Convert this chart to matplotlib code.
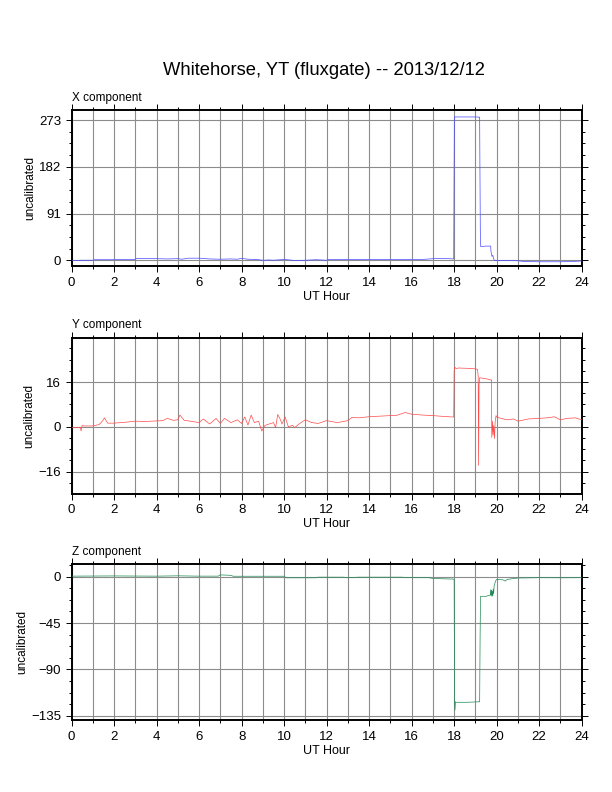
import matplotlib
matplotlib.use("Agg")
import matplotlib.pyplot as plt
from matplotlib.ticker import MultipleLocator
import numpy as np

plt.rcParams['font.family'] = ['Liberation Sans', 'DejaVu Sans']

title = "Whitehorse, YT (fluxgate) -- 2013/12/12"
x_ticks = [0, 2, 4, 6, 8, 10, 12, 14, 16, 18, 20, 22, 24]

# X component (hours, value)
x_hours = [0.0, 0.5, 1.0, 1.1, 2.0, 2.5, 3.0, 3.05, 3.5, 4.0, 4.5, 5.0, 5.2, 5.5, 6.0, 6.5,
           7.0, 7.5, 7.8, 8.0, 8.3, 8.7, 9.0, 9.3, 9.5, 10.0, 10.5, 11.0, 11.5, 12.0, 12.1,
           13.0, 14.0, 15.0, 16.0, 16.5, 17.0, 17.5, 17.98, 18.0, 18.01, 18.5, 19.0,
           19.2, 19.21, 19.23, 19.25, 19.5, 19.72, 19.73, 19.78, 19.82, 19.86, 19.9, 20.5,
           21.0, 21.3, 22.0, 23.0, 23.5, 24.0]
x_vals = [0.0, 0.5, 0.5, 1.5, 1.5, 2.0, 2.0, 4.0, 4.0, 3.5, 3.0, 3.5, 2.5, 4.5, 4.5, 3.0,
          2.5, 3.0, 2.5, 4.0, 2.5, 2.0, 0.5, 1.0, 0.5, 2.0, 0.0, 0.5, 1.5, 0.5, 2.0,
          2.0, 2.0, 2.0, 2.0, 2.0, 3.5, 4.0, 3.0, 200.0, 279.0, 279.0, 279.0,
          278.5, 200.0, 60.0, 27.0, 28.0, 28.0, 18.0, 8.0, 10.0, 3.0, 0.0, 0.0,
          -0.5, -2.0, -2.5, -2.5, -2.0, -1.0]

# Y component
y_hours = [0.0, 0.3, 0.42, 0.45, 0.5, 0.55, 1.0, 1.3, 1.45, 1.55, 1.7, 2.0, 2.5, 3.0, 3.5,
           4.0, 4.3, 4.5, 4.8, 5.0, 5.1, 5.3, 5.6, 6.0, 6.2, 6.5, 6.8, 7.0, 7.2, 7.5, 7.8,
           8.0, 8.15, 8.3, 8.45, 8.6, 8.8, 8.95, 9.1, 9.3, 9.5, 9.6, 9.7, 9.8, 9.9, 10.05,
           10.2, 10.4, 10.5, 10.7, 11.0, 11.3, 11.6, 12.0, 12.5, 13.0, 13.2, 13.5, 14.0,
           14.5, 15.0, 15.3, 15.7, 16.0, 16.5, 17.0, 17.5, 17.98, 18.0, 18.02, 18.1, 18.2,
           18.6, 19.0, 19.1, 19.13, 19.15, 19.17, 19.2, 19.4, 19.6, 19.73, 19.75, 19.77,
           19.8, 19.83, 19.86, 19.9, 19.93, 19.97, 20.0, 20.2, 20.5, 20.8, 21.0, 21.5,
           22.0, 22.5, 22.7, 23.0, 23.3, 23.7, 24.0]
y_vals = [-0.2, -0.3, -0.2, -1.5, 0.5, 0.3, 0.3, 0.8, 2.0, 3.2, 1.3, 1.3, 1.6, 2.0, 1.9,
          2.1, 2.2, 3.0, 2.3, 2.5, 4.2, 2.3, 2.0, 1.5, 2.8, 1.0, 3.0, 1.2, 3.0, 1.5, 2.5,
          1.2, 3.5, 0.6, 4.2, 1.5, 2.0, -1.5, 0.5, 1.0, 1.5, -0.3, 4.4, 3.0, 1.0, 3.5,
          0.0, 0.5, -0.3, 1.0, 2.5, 1.5, 1.2, 2.2, 1.5, 2.2, 3.4, 3.2, 3.6, 3.8, 4.0, 4.1,
          5.1, 4.5, 4.2, 4.0, 3.7, 3.5, 20.0, 21.3, 20.8, 21.0, 20.9, 20.7, 20.5, 18.0,
          -13.8, 15.0, 17.5, 17.3, 17.0, 16.7, 16.8, -3.8, 2.0, -3.0, 0.5, -4.2, 2.0, 4.0,
          3.5, 3.0, 2.5, 2.8, 2.0, 2.8, 3.0, 3.3, 3.6, 2.5, 3.0, 3.2, 2.5]

# Z component
z_hours = [0.0, 2.0, 4.0, 5.0, 6.0, 6.9, 7.0, 7.5, 7.6, 9.0, 10.0, 10.1, 11.5, 11.6, 12.8,
           13.0, 13.5, 15.5, 16.0, 16.8, 17.0, 17.5, 18.0, 18.02, 18.04, 18.06, 18.1, 18.6,
           19.2, 19.22, 19.24, 19.5, 19.65, 19.7, 19.72, 19.74, 19.76, 19.78, 19.8, 19.82,
           19.84, 19.86, 19.88, 19.9, 19.95, 20.0, 20.3, 20.4, 20.5, 20.7, 21.0, 22.0, 23.0,
           24.0]
z_vals = [0.6, 0.8, 0.6, 0.9, 0.6, 0.6, 1.8, 1.4, 0.5, 0.5, 0.5, -1.0, -1.0, -0.4, -0.4,
          -1.0, -0.4, -0.4, -0.9, -0.9, -1.6, -2.0, -2.3, -122.0, -129.5, -121.5, -122.0,
          -122.0, -121.5, -60.0, -19.0, -19.0, -18.0, -18.0, -12.5, -18.0, -13.0, -19.0,
          -14.0, -18.5, -12.0, -16.0, -9.0, -7.5, -4.0, -2.6, -3.0, -4.2, -2.5, -2.0,
          -1.2, -0.9, -1.0, -0.9]

panels = [
    ("X component", x_hours, x_vals, (-11.1, 292.5), 91, '#4a4aff'),
    ("Y component", y_hours, y_vals, (-23.9, 31.9), 16, '#ff4a4a'),
    ("Z component", z_hours, z_vals, (-139.5, 12.3), 45, '#1f8a55'),
]

fig = plt.figure(figsize=(6.12, 7.92), dpi=100)
fig.text(0.529, 1 - 70.5 / 792, title, ha='center', va='center', fontsize=13.2)

left = 71.5 / 612
width = (581.7 - 71.5) / 612
bottoms_px = [266.2, 493.7, 720.3]
height = 156.2 / 792

for (name, hrs, vals, ylim, step, color), bpx in zip(panels, bottoms_px):
    ax = fig.add_axes([left, 1 - bpx / 792, width, height])
    ax.plot(hrs, vals, color=color, lw=0.5, zorder=3)
    ax.set_xlim(0, 24)
    ax.set_ylim(*ylim)
    ax.xaxis.set_major_locator(MultipleLocator(2))
    ax.xaxis.set_minor_locator(MultipleLocator(1))
    ax.yaxis.set_major_locator(MultipleLocator(step))
    ax.yaxis.set_minor_locator(MultipleLocator(step / 4))
    ax.set_xticks(x_ticks)
    ax.set_xticklabels([str(t) for t in x_ticks])
    ax.grid(True, which='major', axis='both', color='#8c8c8c', lw=0.8, zorder=1)
    ax.grid(True, which='minor', axis='x', color='#8c8c8c', lw=0.8, zorder=1)
    ax.tick_params(which='both', direction='out', top=True, right=True,
                   labelsize=9.5, colors='black', pad=3.5)
    ax.tick_params(which='major', length=4, width=0.7)
    ax.tick_params(which='minor', length=2, width=0.7)
    for s in ax.spines.values():
        s.set_linewidth(1.4)
        s.set_color('black')
    ax.set_xlabel("UT Hour", fontsize=9, labelpad=1.5)
    ax.set_ylabel("uncalibrated", fontsize=8.5, labelpad=2)
    ax.annotate(name, xy=(0, 1), xycoords='axes fraction', xytext=(0, 9),
                textcoords='offset points', ha='left', va='center', fontsize=8.5)
    ax.set_axisbelow(True)

fig.savefig("out.png", dpi=100)
